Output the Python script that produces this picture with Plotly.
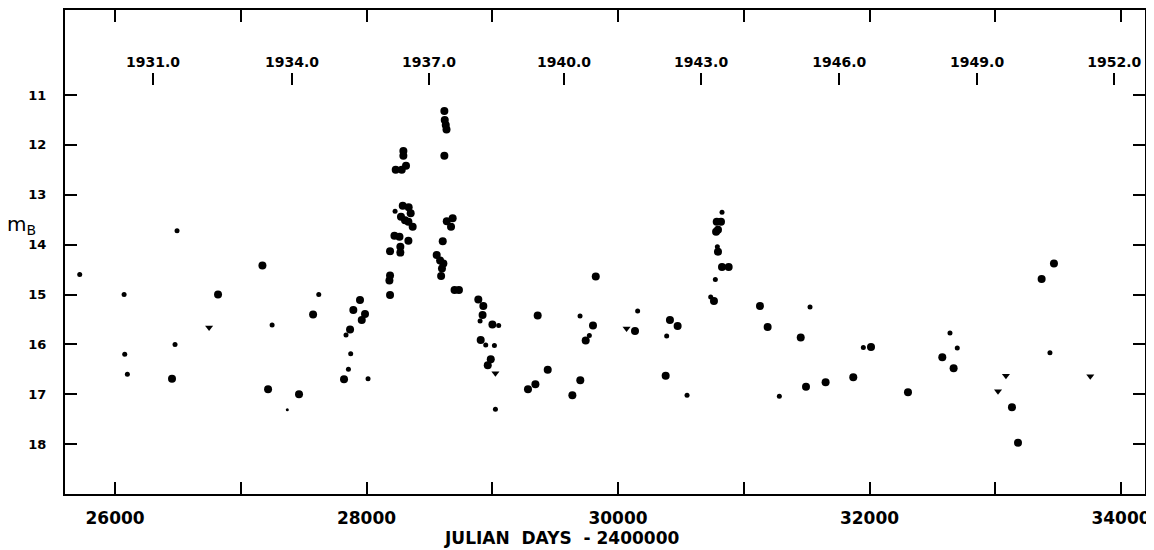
import plotly.graph_objects as go

# Large dots (Julian days - 2400000, blue magnitude)
big_jd = [26453, 26819, 27172, 27217, 27463, 27575, 27821, 27869, 27895, 27948,
          27962, 27988, 28187, 28182, 28187, 28187, 28269, 28269, 28222, 28262,
          28333, 28274, 28306, 28333, 28367, 28351, 28288, 28335, 28232, 28280,
          28314, 28293, 28293, 28619, 28622, 28630, 28636, 28619, 28685, 28638,
          28672, 28606, 28558, 28585, 28611, 28600, 28593, 28700, 28735, 28889,
          28929, 28923, 29001, 28908, 28988, 28964, 29361, 29441, 29343, 29284,
          29637, 29700, 29743, 29801, 29823, 30135, 30379, 30413, 30474, 30785,
          30819, 30780, 30795, 30795, 30827, 30880, 30763, 31129, 31190, 31453,
          31495, 31651, 31871, 32012, 32306, 32579, 32669, 33133, 33181, 33369,
          33467]
big_mag = [16.69, 15.00, 14.42, 16.90, 17.00, 15.40, 16.70, 15.70, 15.31, 15.11,
           15.51, 15.39, 14.62, 14.72, 15.01, 14.13, 14.04, 14.16, 13.82, 13.84,
           13.92, 13.44, 13.51, 13.54, 13.64, 13.37, 13.22, 13.25, 12.50, 12.50,
           12.42, 12.12, 12.22, 11.32, 11.50, 11.60, 11.69, 12.22, 13.47, 13.53,
           13.64, 13.93, 14.21, 14.32, 14.38, 14.48, 14.63, 14.91, 14.91, 15.10,
           15.23, 15.41, 15.60, 15.91, 16.30, 16.42, 15.42, 16.51, 16.80, 16.90,
           17.02, 16.72, 15.92, 15.62, 14.64, 15.73, 16.63, 15.51, 15.63, 13.54,
           13.54, 13.74, 13.70, 14.14, 14.45, 14.45, 15.13, 15.23, 15.65, 15.86,
           16.85, 16.76, 16.66, 16.05, 16.96, 16.26, 16.48, 17.26, 17.97, 14.69,
           14.38]

# Small dots
small_jd = [25719, 26072, 26077, 26098, 26477, 26493, 27249, 27620, 27837, 27874,
            27856, 28012, 28227, 28903, 29051, 28948, 29017, 29025, 29698, 29772,
            30156, 30387, 30549, 30827, 30790, 30774, 30737, 31283, 31527, 31951,
            32640, 32698, 33435]
small_mag = [14.60, 15.00, 16.20, 16.60, 16.00, 13.72, 15.61, 15.00, 15.81, 16.19,
             16.50, 16.69, 13.33, 15.53, 15.62, 16.01, 16.02, 17.30, 15.43, 15.82,
             15.33, 15.83, 17.02, 13.35, 14.04, 14.70, 15.05, 17.04, 15.25, 16.06,
             15.77, 16.07, 16.17]

# Tiny dot
tiny_jd = [27370]
tiny_mag = [17.31]

# Down-pointing marks (limits)
lim_jd = [26748, 29025, 30068, 33022, 33085, 33756]
lim_mag = [15.66, 16.58, 15.68, 16.94, 16.63, 16.64]

# Axes
x_ticks = [26000, 27000, 28000, 29000, 30000, 31000, 32000, 33000, 34000]
x_labels = ["26000", "", "28000", "", "30000", "", "32000", "", "34000"]
y_ticks = [11, 12, 13, 14, 15, 16, 17, 18]
year_pos = [26302, 27408, 28497, 29571, 30661, 31759, 32856, 33946]
year_labels = ["1931.0", "1934.0", "1937.0", "1940.0", "1943.0", "1946.0", "1949.0", "1952.0"]

x_range = [25602, 34191]
y_range = [19.0, 9.295]

FONT = "DejaVu Sans"

fig = go.Figure()
fig.add_trace(go.Scatter(x=big_jd, y=big_mag, mode="markers",
                         marker=dict(color="black", size=8, line=dict(width=0)),
                         showlegend=False))
fig.add_trace(go.Scatter(x=small_jd, y=small_mag, mode="markers",
                         marker=dict(color="black", size=5, line=dict(width=0)),
                         showlegend=False))
fig.add_trace(go.Scatter(x=tiny_jd, y=tiny_mag, mode="markers",
                         marker=dict(color="black", size=3, line=dict(width=0)),
                         showlegend=False))
fig.add_trace(go.Scatter(x=lim_jd, y=lim_mag, mode="markers",
                         marker=dict(color="black", size=7, symbol="triangle-down",
                                     line=dict(width=0)),
                         showlegend=False))
# invisible trace to activate the year axis
fig.add_trace(go.Scatter(x=year_pos, y=[None] * len(year_pos), xaxis="x2",
                         mode="markers", showlegend=False, hoverinfo="skip"))

# the page body has an 8px margin, so the figure is 8px smaller than the window
fig.update_layout(
    width=1146, height=542,
    margin=dict(l=57, r=9, t=2, b=56),
    paper_bgcolor="white", plot_bgcolor="white",
    font=dict(family=FONT, color="black"),
    xaxis=dict(range=x_range, tickvals=x_ticks, ticktext=x_labels, automargin=False,
               ticks="inside", ticklen=12, tickwidth=2, tickcolor="black",
               showline=True, linewidth=2, linecolor="black", mirror="ticks",
               showgrid=False, zeroline=False, ticklabelstandoff=8,
               tickfont=dict(size=17, family=FONT, weight="bold")),
    yaxis=dict(range=y_range, tickvals=y_ticks, automargin=False,
               ticks="inside", ticklen=12, tickwidth=2, tickcolor="black",
               showline=True, linewidth=2, linecolor="black", mirror="ticks",
               showgrid=False, zeroline=False, ticklabelstandoff=14,
               tickfont=dict(size=13, family=FONT, weight="bold")),
    xaxis2=dict(range=x_range, overlaying="x", side="top", anchor="free",
                position=0.845, tickvals=year_pos, ticktext=year_labels, automargin=False,
                ticks="outside", ticklen=12, tickwidth=2, tickcolor="black",
                showline=False, showgrid=False, zeroline=False,
                tickfont=dict(size=14, family=FONT, weight="bold")),
    annotations=[
        dict(text="JULIAN\u00a0\u00a0DAYS\u00a0\u00a0-\u00a02400000", xref="paper", yref="paper",
             x=0.46, y=-0.091, xanchor="center", yanchor="middle", showarrow=False,
             font=dict(size=17, family=FONT, weight="bold")),
        dict(text="m<sub>B</sub>", xref="paper", yref="paper",
             x=-0.04, y=0.555, xanchor="center", yanchor="middle", showarrow=False,
             font=dict(size=20, family=FONT)),
    ],
)

fig.write_html("out.html")
